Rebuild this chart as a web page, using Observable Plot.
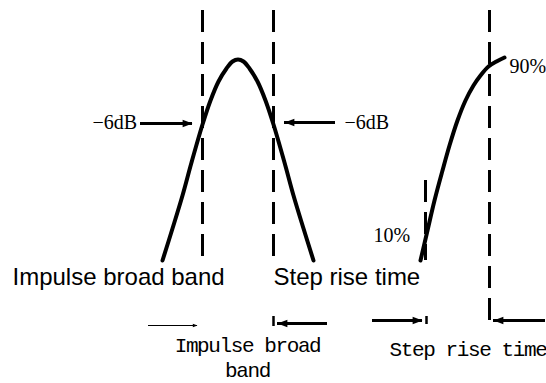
<!DOCTYPE html>
<html><head><meta charset="utf-8">
<script src="https://cdn.jsdelivr.net/npm/d3@7"></script>
<script src="https://cdn.jsdelivr.net/npm/@observablehq/plot@0.6"></script>
<style>html,body{margin:0;padding:0;background:#fff}</style>
</head><body><div id="chart"></div>
<script>
// ---- data (diagram units: x = time, y = level measured downward) ----
const pulseT = [162,172,182,191,202,210,218,226,232,237.5,243,249,257,265,273,284,293,303,313];
const pulseY = [260,228,195,162,124,100,81,68,61,59,61,68,81,100,124,162,195,228,260];
const stepT = [420,427,434,442,449,457,465,473,480,488,496,504];
const stepY = [260,230,200,170,145,120,100,85,75,66,61,57];

// dashed markers
const dashT = [202, 273, 489, 425];
const dashFrom = [10, 10, 10, 180];
const dashTo = [257, 257, 322, 260];

// small end ticks
const tickT = [273, 426];
const tickFrom = [316, 316];
const tickTo = [326, 324];

// arrows (thick)
const arrowFrom = [140, 335, 327, 372, 545];
const arrowTo = [192, 284, 277, 422, 493];
const arrowLevel = [123, 122, 323, 320, 320];
// thin arrow
const thinFrom = [148];
const thinTo = [197];
const thinLevel = [325];

// labels
const serifLabels = ["−6dB", "−6dB", "90%", "10%"];
const serifT = [92, 344, 509, 373];
const serifY = [122, 122, 66, 235];

const sansLabels = ["Impulse broad band", "Step rise time"];
const sansT = [12, 273];
const sansY = [277, 277];

const monoLabels = ["Impulse broad\nband", "Step rise time"];
const monoT = [247, 467.5];
const monoY = [356, 347];

// ---- build tables ----
const pulse = pulseT.map((t, i) => ({t, y: pulseY[i]}));
const step = stepT.map((t, i) => ({t, y: stepY[i]}));
const dashes = dashT.map((t, i) => ({t, y1: dashFrom[i], y2: dashTo[i]}));
const ticks = tickT.map((t, i) => ({t, y1: tickFrom[i], y2: tickTo[i]}));
const arrows = arrowFrom.map((a, i) => ({x1: a, x2: arrowTo[i], y: arrowLevel[i]}));
const thin = thinFrom.map((a, i) => ({x1: a, x2: thinTo[i], y: thinLevel[i]}));
const serif = serifLabels.map((s, i) => ({s, t: serifT[i], y: serifY[i]}));
const sans = sansLabels.map((s, i) => ({s, t: sansT[i], y: sansY[i]}));
const mono = monoLabels.map((s, i) => ({s, t: monoT[i], y: monoY[i]}));

const head = {
  draw(context, size) {
    const r = Math.sqrt(size / Math.PI);
    context.moveTo(0, 0);
    context.lineTo(-2.6 * r, -r);
    context.lineTo(-2.6 * r, r);
    context.closePath();
  }
};

const plot = Plot.plot({
  width: 546,
  height: 383,
  margin: 0,
  x: {domain: [0, 546], range: [0, 546], axis: null},
  y: {domain: [0, 383], range: [0, 383], axis: null},
  style: {background: "white"},
  marks: [
    Plot.ruleX(dashes, {x: "t", y1: "y1", y2: "y2", stroke: "black", strokeWidth: 3, strokeDasharray: "22,10"}),
    Plot.ruleX(ticks, {x: "t", y1: "y1", y2: "y2", stroke: "black", strokeWidth: 2.5}),
    Plot.line(pulse, {x: "t", y: "y", curve: "catmull-rom", stroke: "black", strokeWidth: 4}),
    Plot.line(step, {x: "t", y: "y", curve: "catmull-rom", stroke: "black", strokeWidth: 4}),
    Plot.ruleY(arrows, {x1: "x1", x2: "x2", y: "y", stroke: "black", strokeWidth: 3}),
    Plot.dot(arrows, {x: "x2", y: "y", symbol: head, r: 3.8, fill: "black", stroke: null,
      rotate: d => d.x2 > d.x1 ? 0 : 180}),
    Plot.ruleY(thin, {x1: "x1", x2: "x2", y: "y", stroke: "black", strokeWidth: 1}),
    Plot.dot(thin, {x: "x2", y: "y", symbol: head, r: 1.8, fill: "black", stroke: null,
      rotate: d => d.x2 > d.x1 ? 0 : 180}),
    Plot.text(serif, {x: "t", y: "y", text: "s", textAnchor: "start", fontFamily: "Liberation Serif", fontSize: 20, fill: "black"}),
    Plot.text(sans, {x: "t", y: "y", text: "s", textAnchor: "start", fontFamily: "Liberation Sans", fontSize: 24, fill: "black"}),
    Plot.text(mono, {x: "t", y: "y", text: "s", textAnchor: "middle", lineHeight: 1.2, fontFamily: "Liberation Mono", fontSize: 21, fill: "black"})
  ]
});
plot.querySelectorAll('g[font-family="Liberation Mono"]').forEach(g => g.setAttribute("letter-spacing", "-1.4"));
document.getElementById("chart").appendChild(plot);
</script>
</body></html>
